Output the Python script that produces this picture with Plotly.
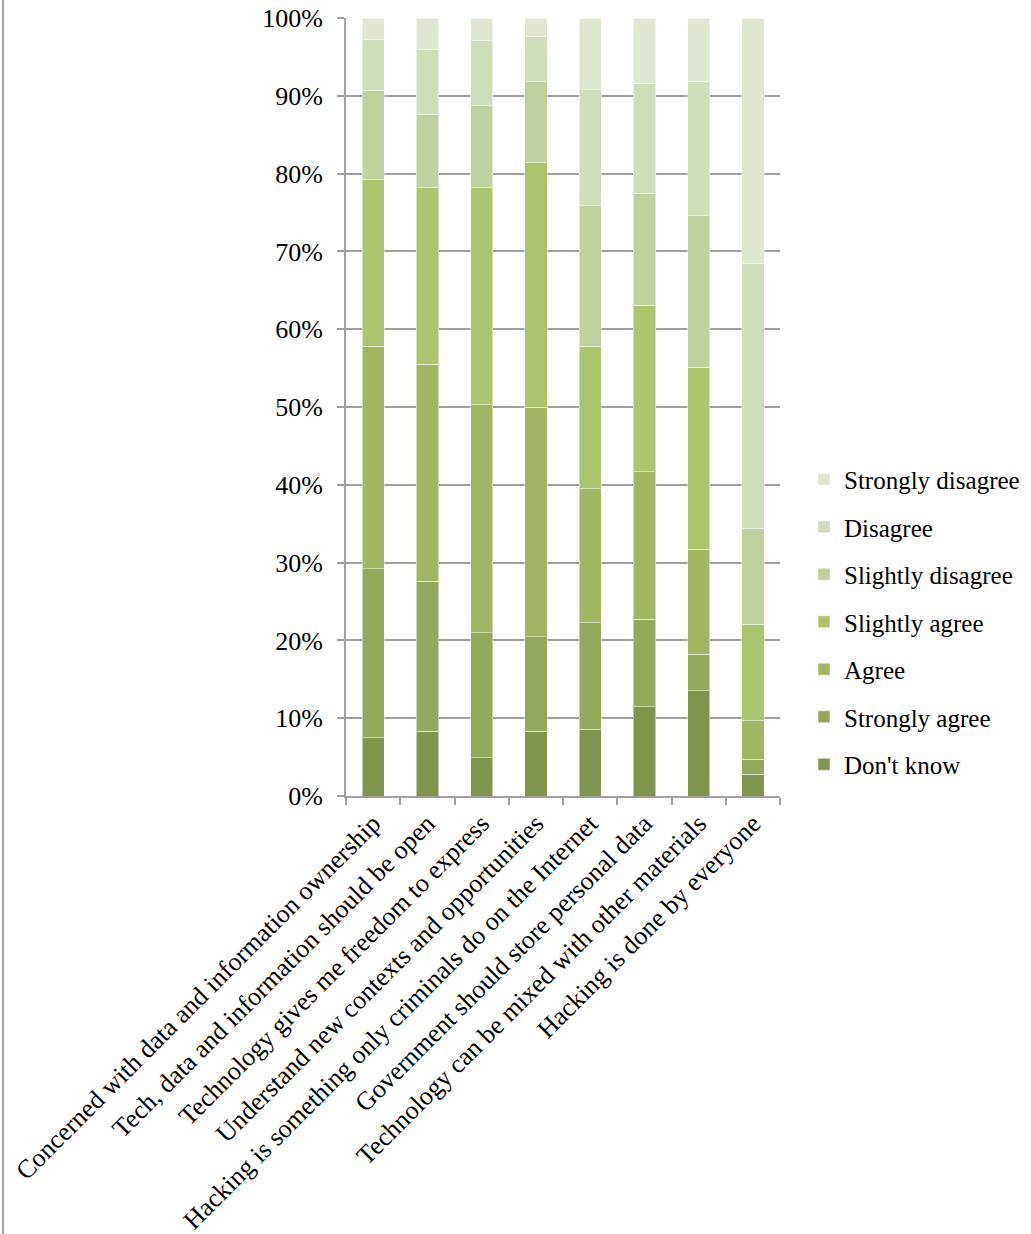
import plotly.graph_objects as go

categories = [
    "Concerned with data and information ownership",
    "Tech, data and information should be open",
    "Technology gives me freedom to express",
    "Understand new contexts and opportunities",
    "Hacking is something only criminals do on the Internet",
    "Government should store personal data",
    "Technology can be mixed with other materials",
    "Hacking is done by everyone",
]

dont_know         = [7.5, 8.3, 4.9, 8.3, 8.6, 11.5, 13.5, 2.8]
strongly_agree    = [21.7, 19.3, 16.1, 12.2, 13.7, 11.2, 4.7, 1.9]
agree             = [28.6, 27.9, 29.3, 29.5, 17.2, 19.0, 13.5, 5.0]
slightly_agree    = [21.4, 22.7, 27.9, 31.4, 18.3, 21.4, 23.4, 12.4]
slightly_disagree = [11.5, 9.4, 10.5, 10.4, 18.1, 14.4, 19.5, 12.3]
disagree          = [6.5, 8.4, 8.4, 5.8, 14.9, 14.1, 17.3, 34.0]
strongly_disagree = [2.8, 4.0, 2.9, 2.4, 9.2, 8.4, 8.1, 31.6]

series_names = ["Don't know", "Strongly agree", "Agree", "Slightly agree",
                "Slightly disagree", "Disagree", "Strongly disagree"]
series_values = [dont_know, strongly_agree, agree, slightly_agree,
                 slightly_disagree, disagree, strongly_disagree]
colors = ["#80944e", "#93a85a", "#a2b563", "#acc46d", "#c0d09e", "#d0ddba", "#dfe7d2"]

FONT = "Liberation Serif"
FS = 26

fig = go.Figure()
n = len(series_names)
for i, (name, vals, col) in enumerate(zip(series_names, series_values, colors)):
    fig.add_trace(go.Bar(
        x=categories, y=vals, name=name,
        marker=dict(color=col, line=dict(color="rgba(255,255,255,0.5)", width=1)),
        legendgroup=f"g{i}", legendrank=n - i,
    ))

W, H = 1031, 1234
L, R, T, B = 346, 780, 18, 796

fig.update_layout(
    width=W, height=H,
    barmode="stack", barnorm="percent", bargap=0.59,
    plot_bgcolor="white", paper_bgcolor="white",
    margin=dict(l=L, r=W - R, t=T, b=H - B, autoexpand=False),
    font=dict(family=FONT, size=FS, color="black"),
    legend=dict(
        x=(804 - L) / (R - L), y=(B - 622) / (B - T), xanchor="left", yanchor="middle",
        traceorder="grouped", tracegroupgap=12,
        font=dict(family=FONT, size=25, color="black"),
        itemwidth=30, bgcolor="rgba(0,0,0,0)",
    ),
    xaxis=dict(
        tickangle=-45, showline=True, linecolor="#a0a0a0", linewidth=2,
        ticks="outside", tickson="boundaries", ticklen=7, tickcolor="#a0a0a0", tickwidth=2,
        showgrid=False, automargin=False,
        tickfont=dict(family=FONT, size=FS, color="black"),
    ),
    yaxis=dict(
        range=[0, 100], tickvals=[0, 10, 20, 30, 40, 50, 60, 70, 80, 90, 100],
        ticktext=[f"{v}%" for v in range(0, 101, 10)],
        showline=True, linecolor="#a0a0a0", linewidth=2,
        ticks="outside", ticklen=7, tickcolor="#a0a0a0", tickwidth=2,
        showgrid=True, gridcolor="#a0a0a0", gridwidth=2,
        zeroline=False, automargin=False, ticklabelstandoff=9,
        tickfont=dict(family=FONT, size=FS, color="black"),
    ),
)

# outer frame line on the left edge
fig.add_shape(type="line", xref="paper", yref="paper",
              x0=(3 - L) / (R - L), x1=(3 - L) / (R - L),
              y0=(B - 0) / (B - T), y1=(B - H) / (B - T),
              line=dict(color="#a0a0a0", width=2))

fig.write_html("out.html", config={"displayModeBar": False},
               post_script="document.body.style.margin='0';")
